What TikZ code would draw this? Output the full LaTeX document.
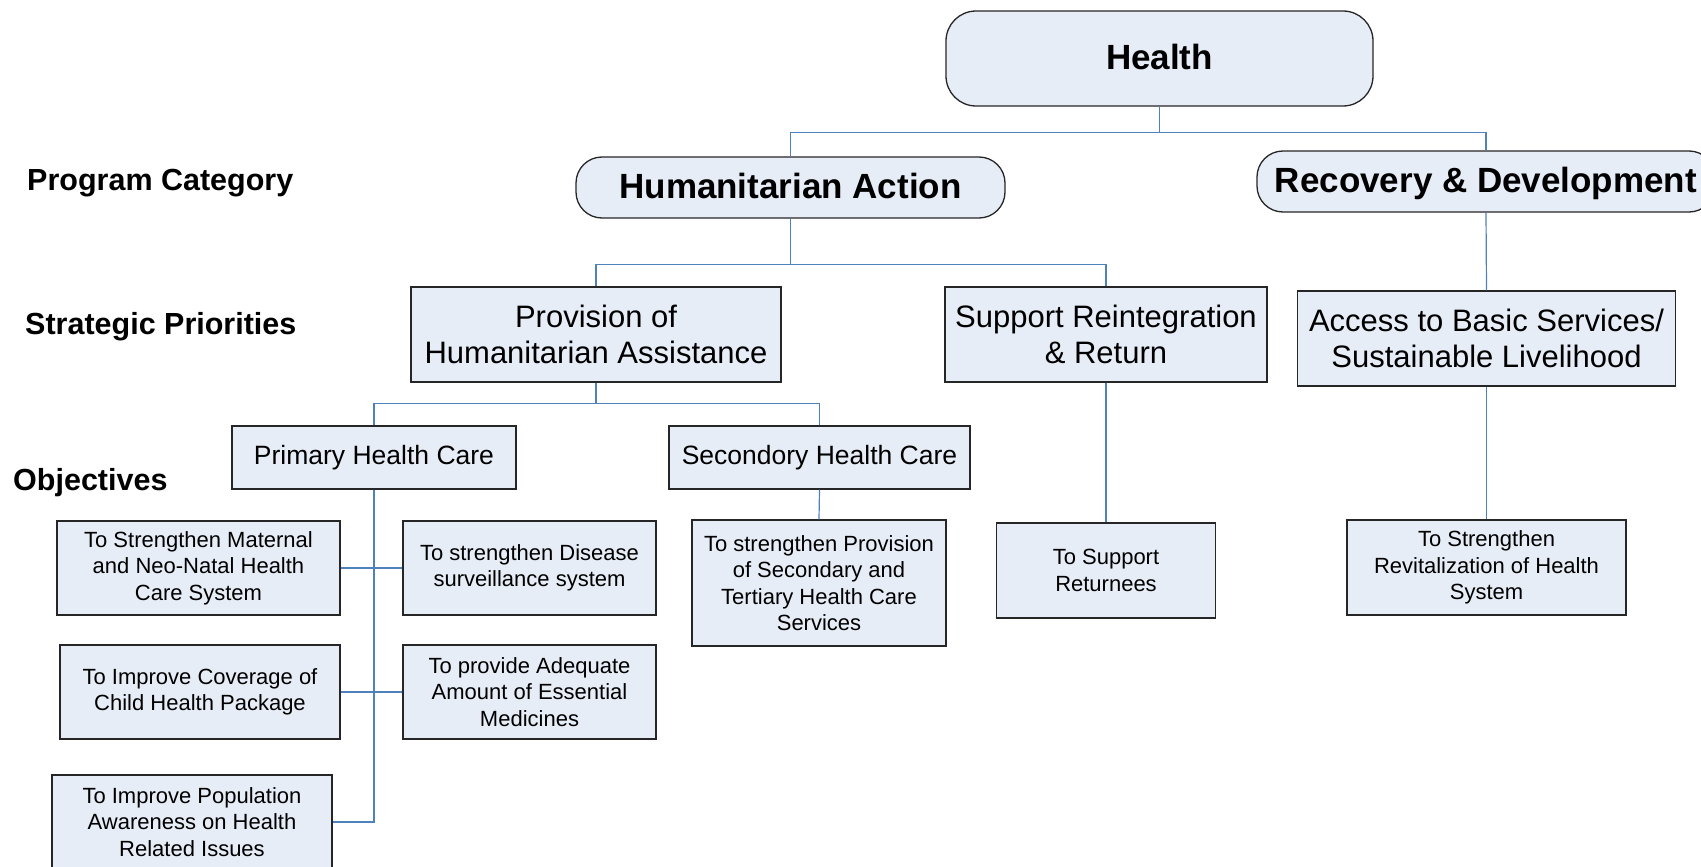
\documentclass[tikz,border=0pt]{standalone}
\usepackage{fontspec}
\setmainfont{Liberation Sans}
\definecolor{boxfill}{RGB}{231,237,247}
\definecolor{linkblue}{RGB}{79,129,189}
\tikzset{
  box/.style={draw=black!85, line width=1.3pt, fill=boxfill, inner sep=0pt, align=center},
  roundbox/.style={box, rounded corners=26pt},
  bigb/.style={font=\fontsize{35}{40}\selectfont\bfseries},
  midt/.style={font=\fontsize{31}{36.5}\selectfont},
  phct/.style={font=\fontsize{26.5}{31}\selectfont},
  smallt/.style={font=\fontsize{22}{26.5}\selectfont},
  lbl/.style={anchor=west, inner sep=0pt, font=\fontsize{30.5}{34}\selectfont\bfseries},
  link/.style={draw=linkblue, line width=1.2pt},
}
\begin{document}
\begin{tikzpicture}[x=1pt,y=-1pt]
\useasboundingbox (0,0) rectangle (1701,867);
\clip (0,0) rectangle (1701,867);
\fill[white] (0,0) rectangle (1701,867);

% level labels
\node[lbl] (lpc) at (27,183) {Program Category};
\node[lbl] (lsp) at (25,327) {Strategic Priorities};
\node[lbl] (lob) at (13,483) {Objectives};

% top
\node[roundbox, rounded corners=30pt, bigb, minimum width=427pt, minimum height=95pt] (health) at (1159.5,58.5) {};
\node[bigb, inner sep=0pt] (healtht) at (1159.5,56.5) {Health};
\node[roundbox, bigb, minimum width=429pt, minimum height=61pt] (ha) at (790.5,187.5) {};
\node[bigb, inner sep=0pt] (hat) at (790.5,185.5) {Humanitarian Action};
\node[roundbox, bigb, minimum width=458pt, minimum height=61pt] (rd) at (1486,181.5) {};
\node[bigb, inner sep=0pt] (rdt) at (1486,183) {Recovery \& Development};

% strategic priorities
\node[box, midt, minimum width=370pt, minimum height=95pt] (prov) at (596,334.5) {Provision of\\Humanitarian Assistance};
\node[box, midt, minimum width=322pt, minimum height=95pt] (sup) at (1106,334.5) {Support Reintegration\\\& Return};
\node[box, midt, minimum width=378pt, minimum height=95pt] (acc) at (1486.5,338.5) {Access to Basic Services/\\Sustainable Livelihood};

% health care
\node[box, phct, minimum width=284pt, minimum height=63pt] (phc) at (374,457.5) {Primary Health Care};
\node[box, phct, minimum width=301pt, minimum height=63pt] (shc) at (819.5,457.5) {Secondory Health Care};

% objectives
\node[box, smallt, minimum width=283pt, minimum height=94pt] (mat) at (198.5,568) {To Strengthen Maternal\\and Neo-Natal Health\\Care System};
\node[box, smallt, minimum width=253pt, minimum height=94pt] (dis) at (529.5,568) {To strengthen Disease\\surveillance system};
\node[box, smallt, minimum width=280pt, minimum height=94pt] (child) at (200,692) {To Improve Coverage of\\Child Health Package};
\node[box, smallt, minimum width=253pt, minimum height=94pt] (med) at (529.5,692) {To provide Adequate\\Amount of Essential\\Medicines};
\node[box, smallt, minimum width=280pt, minimum height=94pt] (pop) at (192,822) {To Improve Population\\Awareness on Health\\Related Issues};
\node[box, smallt, minimum width=254pt, minimum height=126pt] (sec) at (819,583) {To strengthen Provision\\of Secondary and\\Tertiary Health Care\\Services};
\node[box, smallt, minimum width=219pt, minimum height=95pt] (ret) at (1106,570.5) {To Support\\Returnees};
\node[box, smallt, minimum width=279pt, minimum height=95pt] (rev) at (1486.5,567.5) {To Strengthen\\Revitalization of Health\\System};

% connectors
\draw[link] (health.south) -- ++(0,26) coordinate (hj) -| (ha.north);
\draw[link] (hj) -| (rd.north);
\draw[link] (ha.south) -- ++(0,46) coordinate (aj) -| (prov.north);
\draw[link] (aj) -| (sup.north);
\draw[link] (rd.south) -- (acc.north);
\draw[link] (prov.south) -- ++(0,20.5) coordinate (pj) -| (phc.north);
\draw[link] (pj) -| (shc.north);
\draw[link] (shc.south) -- (sec.north);
\draw[link] (sup.south) -- (ret.north);
\draw[link] (acc.south) -- (rev.north);
\draw[link] (phc.south) |- (pop.east);
\draw[link] (mat.east) -- (dis.west);
\draw[link] (child.east) -- (med.west);
\end{tikzpicture}
\end{document}
